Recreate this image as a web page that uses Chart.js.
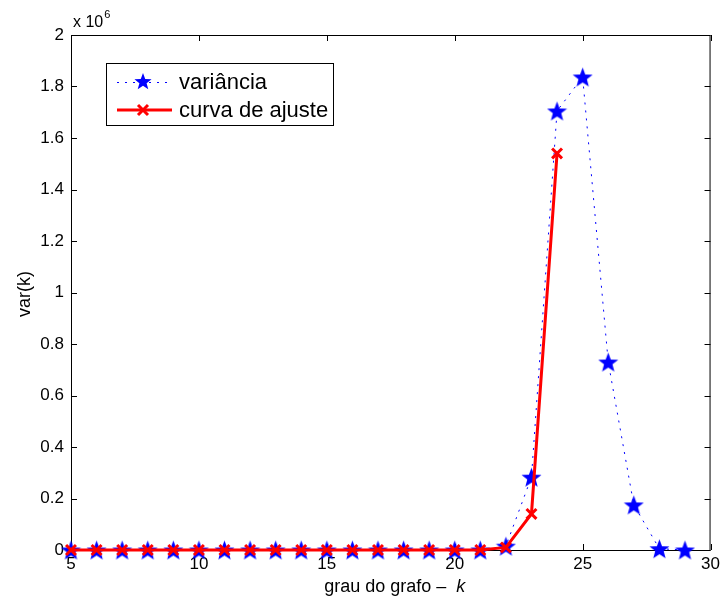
<!DOCTYPE html>
<html>
<head>
<meta charset="utf-8">
<script src="https://cdn.jsdelivr.net/npm/chart.js@4"></script>
<style>
  html, body { margin: 0; padding: 0; background: #fff; }
  #wrap { width: 724px; height: 599px; }
</style>
</head>
<body>
<div id="wrap"><canvas id="varChart" width="724" height="599"></canvas></div>
<script>
// grau do grafo k
const grauVar = [5, 6, 7, 8, 9, 10, 11, 12, 13, 14, 15, 16, 17, 18, 19, 20, 21, 22, 23, 24, 25, 26, 27, 28, 29];
const variancia = [0, 0, 0, 0, 0, 0, 0, 0, 0, 0, 0, 0, 0, 0, 0, 0, 0, 15000, 283000, 1705000, 1837000, 730000, 175000, 5000, 0];
const grauAjuste = [5, 6, 7, 8, 9, 10, 11, 12, 13, 14, 15, 16, 17, 18, 19, 20, 21, 22, 23, 24];
const curvaAjuste = [0, 0, 0, 0, 0, 0, 0, 0, 0, 0, 0, 0, 0, 0, 0, 0, 0, 10000, 140000, 1540000];
const xTicks = [5, 10, 15, 20, 25, 30];
const yTicks = [0, 0.2, 0.4, 0.6, 0.8, 1, 1.2, 1.4, 1.6, 1.8, 2].map(v => v * 1e6);

const FONT = '"Liberation Sans", Arial, Helvetica, sans-serif';

// filled 5-point star like matlab's 'p' marker
function makeStar(size, color) {
    const c = document.createElement("canvas");
    c.width = size; c.height = size;
    const g = c.getContext("2d");
    const cx = size / 2, cy = size / 2 + 1;
    const ro = size / 2, ri = ro * 0.42;
    g.beginPath();
    for (let i = 0; i < 10; i++) {
        const r = i % 2 === 0 ? ro : ri;
        const a = -Math.PI / 2 + i * Math.PI / 5;
        const px = cx + r * Math.cos(a), py = cy + r * Math.sin(a);
        if (i === 0) g.moveTo(px, py); else g.lineTo(px, py);
    }
    g.closePath();
    g.fillStyle = color;
    g.fill();
    return c;
}
const starImg = makeStar(21, "#0000ff");
const starSmall = makeStar(18, "#0000ff");

function drawX(ctx, x, y, r) {
    ctx.save();
    ctx.strokeStyle = "#ff0000";
    ctx.lineWidth = 3;
    ctx.beginPath();
    ctx.moveTo(x - r, y - r); ctx.lineTo(x + r, y + r);
    ctx.moveTo(x + r, y - r); ctx.lineTo(x - r, y + r);
    ctx.stroke();
    ctx.restore();
}

const matlabAxes = {
    id: "matlabAxes",
    beforeDatasetsDraw(chart) {
        const { ctx, chartArea: a, scales } = chart;
        ctx.save();
        ctx.strokeStyle = "#000";
        ctx.lineWidth = 1;
        ctx.strokeRect(a.left + 0.5, a.top + 0.5, a.right - a.left - 1, a.bottom - a.top);
        ctx.beginPath();
        const tl = 6;
        xTicks.forEach(v => {
            const px = Math.round(scales.x.getPixelForValue(v)) + 0.5;
            ctx.moveTo(px, a.bottom); ctx.lineTo(px, a.bottom - tl);
            ctx.moveTo(px, a.top); ctx.lineTo(px, a.top + tl);
        });
        yTicks.forEach(v => {
            const py = Math.round(scales.y.getPixelForValue(v)) + 0.5;
            ctx.moveTo(a.left, py); ctx.lineTo(a.left + tl, py);
            ctx.moveTo(a.right, py); ctx.lineTo(a.right - tl, py);
        });
        ctx.stroke();

        // exponent label
        ctx.fillStyle = "#000";
        ctx.font = "16px " + FONT;
        ctx.textBaseline = "alphabetic";
        ctx.textAlign = "left";
        ctx.fillText("x 10", a.left + 2, a.top - 8);
        const w = ctx.measureText("x 10").width;
        ctx.font = "11px " + FONT;
        ctx.fillText("6", a.left + 2 + w + 1, a.top - 17);

        // axis titles
        const t1 = "grau do grafo \u2013  ";
        ctx.font = "18px " + FONT;
        const w1 = ctx.measureText(t1).width;
        ctx.font = "italic 18px " + FONT;
        const w2 = ctx.measureText("k").width;
        const sx = (a.left + a.right) / 2 - (w1 + w2) / 2 + 4;
        ctx.font = "18px " + FONT;
        ctx.fillText(t1, sx, 592);
        ctx.font = "italic 18px " + FONT;
        ctx.fillText("k", sx + w1, 592);

        ctx.translate(25, 294);
        ctx.rotate(-Math.PI / 2);
        ctx.font = "18px " + FONT;
        ctx.textAlign = "center";
        ctx.textBaseline = "middle";
        ctx.fillText("var(k)", 0, 0);
        ctx.restore();
    },
    afterDatasetsDraw(chart) {
        // legend box inside the axes, top left
        const { ctx } = chart;
        const bx = 106, by = 63, bw = 227, bh = 62;
        ctx.save();
        ctx.fillStyle = "#fff";
        ctx.fillRect(bx, by, bw, bh);
        ctx.strokeStyle = "#000";
        ctx.lineWidth = 1;
        ctx.strokeRect(bx + 0.5, by + 0.5, bw, bh);

        const names = chart.data.datasets.map(d => d.label);
        // row 1: variância
        let y = 82;
        ctx.strokeStyle = "#0000ff";
        ctx.lineWidth = 1;
        ctx.setLineDash([2, 6]);
        ctx.beginPath();
        ctx.moveTo(117, y + 0.5); ctx.lineTo(170, y + 0.5);
        ctx.stroke();
        ctx.setLineDash([]);
        ctx.drawImage(starSmall, 143 - 9, y - 10);
        ctx.fillStyle = "#000";
        ctx.font = "22px " + FONT;
        ctx.textBaseline = "middle";
        ctx.textAlign = "left";
        ctx.fillText(names[1], 179, y + 1);

        // row 2: curva de ajuste
        y = 110;
        ctx.strokeStyle = "#ff0000";
        ctx.lineWidth = 3;
        ctx.beginPath();
        ctx.moveTo(117, y); ctx.lineTo(172, y);
        ctx.stroke();
        drawX(ctx, 143, y, 5);
        ctx.fillText(names[0], 179, y + 1);
        ctx.restore();
    }
};

const canvas = document.getElementById("varChart");
const ctx = canvas.getContext("2d");

new Chart(ctx, {
    type: "line",
    data: {
        datasets: [{
            label: "curva de ajuste",
            data: grauAjuste.map((k, i) => ({ x: k, y: curvaAjuste[i] })),
            borderColor: "#ff0000",
            borderWidth: 3,
            pointStyle: "crossRot",
            pointRadius: 7,
            pointBorderWidth: 3,
            pointBorderColor: "#ff0000",
            pointBackgroundColor: "#ff0000",
            tension: 0,
            clip: false,
            order: 0
        }, {
            label: "variância",
            data: grauVar.map((k, i) => ({ x: k, y: variancia[i] })),
            borderColor: "#0000ff",
            borderWidth: 1,
            borderDash: [2, 6],
            pointStyle: starImg,
            pointRadius: 11,
            tension: 0,
            clip: false,
            order: 1
        }]
    },
    options: {
        responsive: false,
        animation: false,
        layout: { padding: { top: 35, right: 13, left: 0, bottom: 0 } },
        plugins: {
            legend: { display: false },
            tooltip: { enabled: false }
        },
        scales: {
            x: {
                type: "linear",
                min: 5,
                max: 30,
                afterFit(s) { s.height = 49; },
                afterBuildTicks(s) { s.ticks = xTicks.map(v => ({ value: v })); },
                grid: { display: false, drawTicks: false },
                border: { display: false },
                ticks: { color: "#000", font: { family: FONT, size: 17 }, padding: 4, maxRotation: 0 }
            },
            y: {
                min: 0,
                max: 2e6,
                afterFit(s) { s.width = 71; },
                afterBuildTicks(s) { s.ticks = yTicks.map(v => ({ value: v })); },
                grid: { display: false, drawTicks: false },
                border: { display: false },
                ticks: {
                    color: "#000",
                    font: { family: FONT, size: 17 },
                    padding: 7,
                    callback: v => String(+(v / 1e6).toFixed(1))
                }
            }
        }
    },
    plugins: [matlabAxes]
});
</script>
</body>
</html>
